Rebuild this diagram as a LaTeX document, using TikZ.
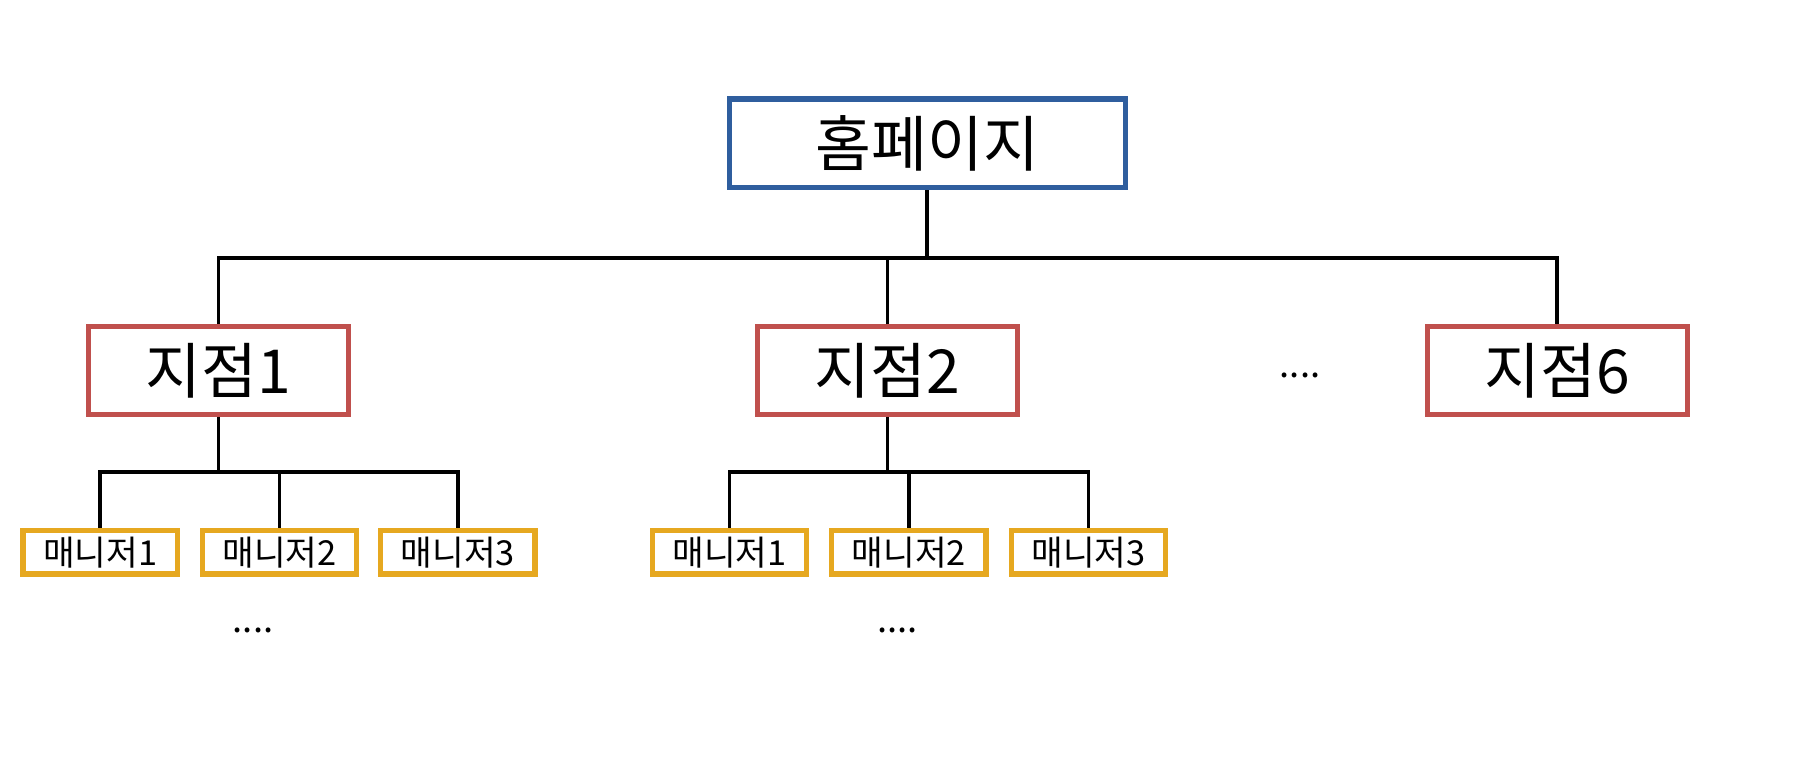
\documentclass[tikz,border=0pt]{standalone}
\usepackage{fontspec}
\newfontfamily\kr{Noto Sans CJK KR}
\definecolor{rootc}{HTML}{2F5E9E}
\definecolor{brc}{HTML}{C0504D}
\definecolor{mgc}{HTML}{E6A820}
\begin{document}
\begin{tikzpicture}[x=0.01cm,y=-0.01cm,
  rootbox/.style={draw=rootc,line width=1.3pt,fill=white,minimum width=3.44cm,minimum height=0.77cm,font=\kr\fontsize{15}{18}\selectfont,inner sep=0},
  brbox/.style={draw=brc,line width=1.3pt,fill=white,minimum width=2.26cm,minimum height=0.76cm,font=\kr\fontsize{15}{18}\selectfont,inner sep=0},
  mgbox/.style={draw=mgc,line width=1.3pt,fill=white,minimum width=1.34cm,minimum height=0.38cm,font=\kr\fontsize{8.5}{10}\selectfont,inner sep=0},
  conn/.style={line width=0.9pt,black},
  dots/.style={font=\kr\fontsize{9}{10}\selectfont}]
\useasboundingbox (0,0) rectangle (1568,676);
\node[rootbox] (root) at (806,124.5) {홈페이지};
\node[brbox] (b1) at (190,322) {지점1};
\node[brbox] (b2) at (771.5,322) {지점2};
\node[brbox] (b6) at (1353.5,322) {지점6};
\node[dots] (d0) at (1130,326) {....};
\foreach \n/\x/\t in {m11/87/매니저1,m12/243/매니저2,m13/398/매니저3,m21/634/매니저1,m22/790/매니저2,m23/946/매니저3}
  \node[mgbox] (\n) at (\x,480) {\t};
\node[dots] (d1) at (220,548) {....};
\node[dots] (d2) at (780,548) {....};
\coordinate (h0) at (806,224);
\draw[conn] (root.south) -- (h0);
\draw[conn] (b1.north) |- (h0) -| (b6.north);
\draw[conn] (b2.north) -- (b2.north |- h0);
\coordinate (h1) at (190,410);
\draw[conn] (b1.south) -- (h1);
\draw[conn] (m11.north) |- (h1) -| (m13.north);
\draw[conn] (m12.north) -- (m12.north |- h1);
\coordinate (h2) at (771.5,410);
\draw[conn] (b2.south) -- (h2);
\draw[conn] (m21.north) |- (h2) -| (m23.north);
\draw[conn] (m22.north) -- (m22.north |- h2);
\end{tikzpicture}
\end{document}
